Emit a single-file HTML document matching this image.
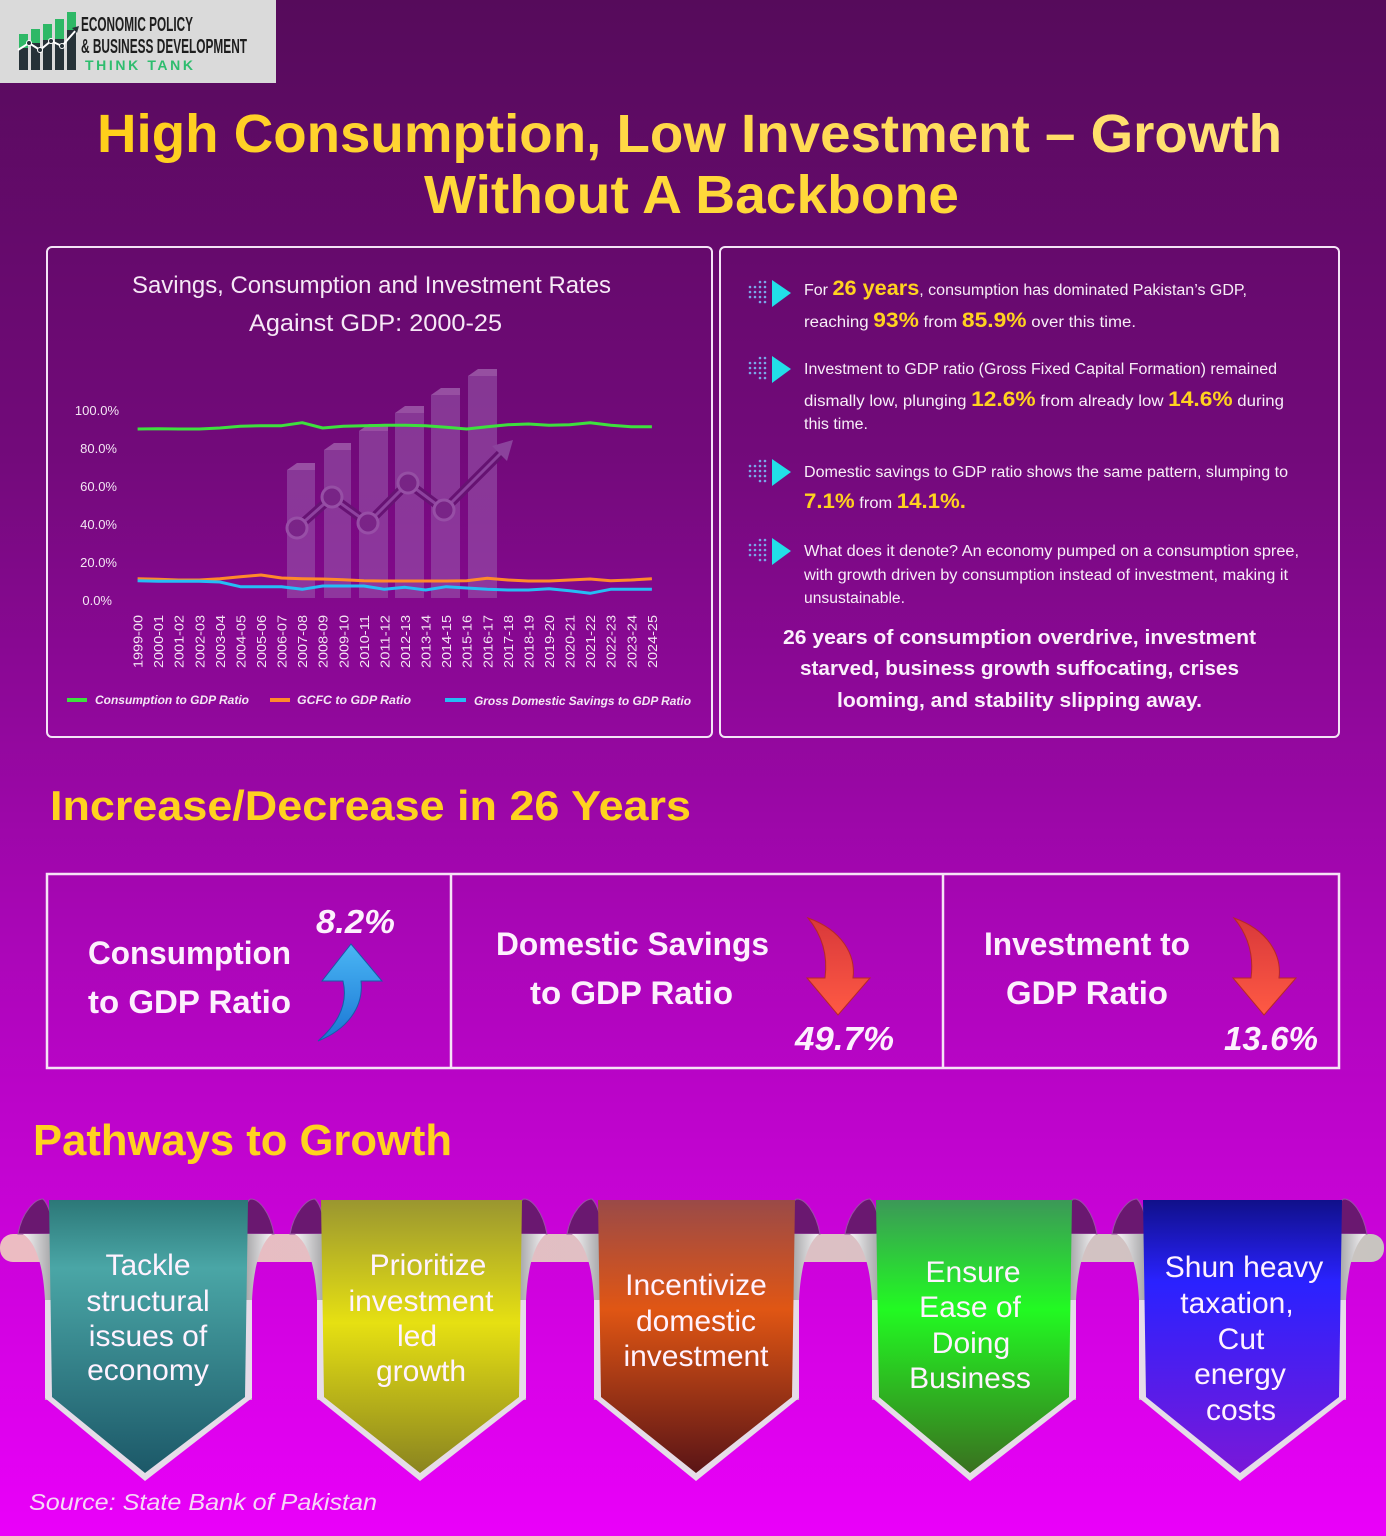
<!DOCTYPE html>
<html><head><meta charset="utf-8"><style>
html,body{margin:0;padding:0;width:1386px;height:1536px;overflow:hidden;}
svg{display:block;}
text{font-family:"Liberation Sans",sans-serif;}
</style></head><body>
<svg width="1386" height="1536" viewBox="0 0 1386 1536" xmlns="http://www.w3.org/2000/svg">
<defs>
<linearGradient id="bg" x1="0" y1="0" x2="0" y2="1">
<stop offset="0" stop-color="#560b5b"/><stop offset="0.3" stop-color="#730a7b"/><stop offset="0.6" stop-color="#a806b5"/><stop offset="1" stop-color="#ea00fa"/>
</linearGradient>
<linearGradient id="ttl" x1="0" y1="0" x2="1" y2="0">
<stop offset="0" stop-color="#ffcf1a"/><stop offset="1" stop-color="#ffe27a"/>
</linearGradient>
<linearGradient id="rod" x1="0" y1="0" x2="1" y2="0">
<stop offset="0" stop-color="#ecbcc2"/><stop offset="0.6" stop-color="#dcc0c4"/><stop offset="1" stop-color="#c8c4c0"/>
</linearGradient>
<linearGradient id="curlL" x1="0" y1="0" x2="1" y2="0">
<stop offset="0" stop-color="#f6f4f6"/><stop offset="1" stop-color="#a8a8aa"/>
</linearGradient>
<linearGradient id="curlR" x1="0" y1="0" x2="1" y2="0">
<stop offset="0" stop-color="#a8a8aa"/><stop offset="1" stop-color="#f6f4f6"/>
</linearGradient>
<linearGradient id="g1" x1="0" y1="0" x2="0" y2="1">
<stop offset="0" stop-color="#2c7878"/><stop offset="0.25" stop-color="#4aa6a6"/><stop offset="1" stop-color="#1c5868"/>
</linearGradient>
<linearGradient id="g2" x1="0" y1="0" x2="0" y2="1">
<stop offset="0" stop-color="#9a9630"/><stop offset="0.45" stop-color="#e6e012"/><stop offset="1" stop-color="#8a8420"/>
</linearGradient>
<linearGradient id="g3" x1="0" y1="0" x2="0" y2="1">
<stop offset="0" stop-color="#9a4a48"/><stop offset="0.4" stop-color="#e05614"/><stop offset="1" stop-color="#5a1416"/>
</linearGradient>
<linearGradient id="g4" x1="0" y1="0" x2="0" y2="1">
<stop offset="0" stop-color="#3c9858"/><stop offset="0.4" stop-color="#22fa22"/><stop offset="1" stop-color="#3a7020"/>
</linearGradient>
<linearGradient id="g5" x1="0" y1="0" x2="0" y2="1">
<stop offset="0" stop-color="#10108a"/><stop offset="0.3" stop-color="#2a22ff"/><stop offset="1" stop-color="#7a18d8"/>
</linearGradient>
<linearGradient id="blueA" x1="0" y1="0" x2="0" y2="1">
<stop offset="0" stop-color="#4ab6f4"/><stop offset="1" stop-color="#1a76d4"/>
</linearGradient>
<linearGradient id="redA" x1="0" y1="0" x2="0" y2="1">
<stop offset="0" stop-color="#d8383a"/><stop offset="1" stop-color="#ff5a44"/>
</linearGradient>
</defs>

<rect x="0" y="0" width="1386" height="1536" fill="url(#bg)"/>

<!-- Logo -->
<rect x="0" y="0" width="276" height="83" fill="#dadada"/>
<g>
<rect x="19" y="34" width="9" height="36" fill="#263238"/>
<rect x="31" y="29" width="9" height="41" fill="#263238"/>
<rect x="43" y="24" width="9" height="46" fill="#263238"/>
<rect x="55" y="19" width="9" height="51" fill="#263238"/>
<rect x="67" y="12" width="9" height="58" fill="#263238"/>
<rect x="19" y="34" width="9" height="14" fill="#2eb866"/>
<rect x="31" y="29" width="9" height="14" fill="#2eb866"/>
<rect x="43" y="24" width="9" height="16" fill="#2eb866"/>
<rect x="55" y="19" width="9" height="20" fill="#2eb866"/>
<rect x="67" y="12" width="9" height="18" fill="#2eb866"/>
<polyline points="18,50 29,43 40,50 51,41 62,46 77,29" fill="none" stroke="#ffffff" stroke-width="2"/>
<circle cx="29" cy="43" r="2.5" fill="#263238" stroke="#fff"/><circle cx="40" cy="50" r="2.5" fill="#263238" stroke="#fff"/><circle cx="51" cy="41" r="2.5" fill="#263238" stroke="#fff"/><circle cx="62" cy="46" r="2.5" fill="#263238" stroke="#fff"/>
<polygon points="79,26 72,28 77,33" fill="#263238"/>
</g>
<text x="81" y="31" font-size="20" font-weight="bold" fill="#1e1e1e" textLength="112" lengthAdjust="spacingAndGlyphs">ECONOMIC POLICY</text>
<text x="81" y="53" font-size="20" font-weight="bold" fill="#1e1e1e" textLength="166" lengthAdjust="spacingAndGlyphs">&amp; BUSINESS DEVELOPMENT</text>
<text x="85" y="70" font-size="14" font-weight="bold" fill="#2ebd6e" textLength="108" lengthAdjust="spacing">THINK TANK</text>

<!-- Title -->
<text x="97" y="152" font-size="54" font-weight="bold" fill="url(#ttl)" textLength="1185" lengthAdjust="spacingAndGlyphs">High Consumption, Low Investment – Growth</text>
<text x="424" y="213" font-size="54" font-weight="bold" fill="#ffd83a" textLength="535" lengthAdjust="spacingAndGlyphs">Without A Backbone</text>

<!-- Panels -->
<rect x="47" y="247" width="665" height="490" rx="5" fill="none" stroke="#f4e4f6" stroke-width="2"/>
<rect x="720" y="247" width="619" height="490" rx="5" fill="none" stroke="#f4e4f6" stroke-width="2"/>

<!-- Chart title -->
<text x="132" y="293" font-size="24" fill="#f6e8f6" textLength="479" lengthAdjust="spacingAndGlyphs">Savings, Consumption and Investment Rates</text>
<text x="249" y="331" font-size="24" fill="#f6e8f6" textLength="253" lengthAdjust="spacingAndGlyphs">Against GDP: 2000-25</text>

<!-- decorative bars -->
<g opacity="0.55">
<g fill="#9a5cae">
<rect x="287" y="470" width="28" height="128"/>
<rect x="324" y="450" width="27" height="148"/>
<rect x="359" y="431" width="29" height="167"/>
<rect x="395" y="413" width="29" height="185"/>
<rect x="431" y="395" width="29" height="203"/>
<rect x="468" y="376" width="29" height="222"/>
</g>
<g fill="#b888c6">
<polygon points="287,470 297,463 315,463 315,470"/>
<polygon points="324,450 334,443 351,443 351,450"/>
<polygon points="359,431 369,424 388,424 388,431"/>
<polygon points="395,413 405,406 424,406 424,413"/>
<polygon points="431,395 441,388 460,388 460,395"/>
<polygon points="468,376 478,369 497,369 497,376"/>
</g>
<polyline points="297,528 332,497 368,523 408,483 444,510 506,448" fill="none" stroke="#5a1a6a" stroke-width="9"/>
<polyline points="297,528 332,497 368,523 408,483 444,510 506,448" fill="none" stroke="#a070b8" stroke-width="3"/>
<g fill="#7a3a8c" stroke="#b088c4" stroke-width="3">
<circle cx="297" cy="528" r="10"/><circle cx="332" cy="497" r="10"/><circle cx="368" cy="523" r="10"/><circle cx="408" cy="483" r="10"/><circle cx="444" cy="510" r="10"/>
</g>
<polygon points="513,440 492,446 507,461" fill="#a070b8"/>
</g>

<!-- y axis labels -->
<g font-size="13" fill="#f4e6f4" text-anchor="end">
<text x="119" y="415">100.0%</text>
<text x="117" y="453">80.0%</text>
<text x="117" y="491">60.0%</text>
<text x="117" y="529">40.0%</text>
<text x="117" y="567">20.0%</text>
<text x="112" y="605">0.0%</text>
</g>

<!-- x labels -->
<g font-size="13" fill="#f4e6f4" text-anchor="end">
<text transform="translate(142.6,615) rotate(-90)" textLength="53" lengthAdjust="spacingAndGlyphs">1999-00</text>
<text transform="translate(163.2,615) rotate(-90)" textLength="53" lengthAdjust="spacingAndGlyphs">2000-01</text>
<text transform="translate(183.7,615) rotate(-90)" textLength="53" lengthAdjust="spacingAndGlyphs">2001-02</text>
<text transform="translate(204.3,615) rotate(-90)" textLength="53" lengthAdjust="spacingAndGlyphs">2002-03</text>
<text transform="translate(224.9,615) rotate(-90)" textLength="53" lengthAdjust="spacingAndGlyphs">2003-04</text>
<text transform="translate(245.4,615) rotate(-90)" textLength="53" lengthAdjust="spacingAndGlyphs">2004-05</text>
<text transform="translate(266.0,615) rotate(-90)" textLength="53" lengthAdjust="spacingAndGlyphs">2005-06</text>
<text transform="translate(286.6,615) rotate(-90)" textLength="53" lengthAdjust="spacingAndGlyphs">2006-07</text>
<text transform="translate(307.2,615) rotate(-90)" textLength="53" lengthAdjust="spacingAndGlyphs">2007-08</text>
<text transform="translate(327.7,615) rotate(-90)" textLength="53" lengthAdjust="spacingAndGlyphs">2008-09</text>
<text transform="translate(348.3,615) rotate(-90)" textLength="53" lengthAdjust="spacingAndGlyphs">2009-10</text>
<text transform="translate(368.9,615) rotate(-90)" textLength="53" lengthAdjust="spacingAndGlyphs">2010-11</text>
<text transform="translate(389.4,615) rotate(-90)" textLength="53" lengthAdjust="spacingAndGlyphs">2011-12</text>
<text transform="translate(410.0,615) rotate(-90)" textLength="53" lengthAdjust="spacingAndGlyphs">2012-13</text>
<text transform="translate(430.6,615) rotate(-90)" textLength="53" lengthAdjust="spacingAndGlyphs">2013-14</text>
<text transform="translate(451.2,615) rotate(-90)" textLength="53" lengthAdjust="spacingAndGlyphs">2014-15</text>
<text transform="translate(471.7,615) rotate(-90)" textLength="53" lengthAdjust="spacingAndGlyphs">2015-16</text>
<text transform="translate(492.3,615) rotate(-90)" textLength="53" lengthAdjust="spacingAndGlyphs">2016-17</text>
<text transform="translate(512.9,615) rotate(-90)" textLength="53" lengthAdjust="spacingAndGlyphs">2017-18</text>
<text transform="translate(533.4,615) rotate(-90)" textLength="53" lengthAdjust="spacingAndGlyphs">2018-19</text>
<text transform="translate(554.0,615) rotate(-90)" textLength="53" lengthAdjust="spacingAndGlyphs">2019-20</text>
<text transform="translate(574.6,615) rotate(-90)" textLength="53" lengthAdjust="spacingAndGlyphs">2020-21</text>
<text transform="translate(595.1,615) rotate(-90)" textLength="53" lengthAdjust="spacingAndGlyphs">2021-22</text>
<text transform="translate(615.7,615) rotate(-90)" textLength="53" lengthAdjust="spacingAndGlyphs">2022-23</text>
<text transform="translate(636.3,615) rotate(-90)" textLength="53" lengthAdjust="spacingAndGlyphs">2023-24</text>
<text transform="translate(656.9,615) rotate(-90)" textLength="53" lengthAdjust="spacingAndGlyphs">2024-25</text>
</g>

<!-- series -->
<polyline fill="none" stroke="#3ee03e" stroke-width="3" stroke-linejoin="round" points="137.6,429 158.2,428.7 178.7,429 199.3,429 219.9,428 240.4,426.3 261,425.7 281.6,425.7 302.2,422.7 322.7,428 343.3,426.3 363.9,425.7 384.4,425.3 405,425.3 425.6,425.7 446.2,427.3 466.7,429 487.3,426.7 507.9,424.7 528.4,424 549,425.3 569.6,424.7 590.1,422.7 610.7,425.3 631.3,426.7 651.9,426.7"/>
<polyline fill="none" stroke="#ff8a2a" stroke-width="3" stroke-linejoin="round" points="137.6,578.7 158.2,579.3 178.7,580 199.3,580 219.9,578.7 240.4,576.7 261,575 281.6,578 302.2,578.7 322.7,579 343.3,579.7 363.9,580.7 384.4,581 405,581 425.6,581 446.2,581 466.7,580.7 487.3,578.3 507.9,580 528.4,581 549,581 569.6,580 590.1,579 610.7,580.7 631.3,580 651.9,578.7"/>
<polyline fill="none" stroke="#25bdf5" stroke-width="3" stroke-linejoin="round" points="137.6,580.7 158.2,581.3 178.7,581.3 199.3,581.3 219.9,582 240.4,586.7 261,586.7 281.6,586.7 302.2,589.3 322.7,586 343.3,586 363.9,586 384.4,589.3 405,587.3 425.6,590 446.2,586.7 466.7,588 487.3,589.3 507.9,590 528.4,590 549,588.7 569.6,590.7 590.1,593.3 610.7,589.3 631.3,589.3 651.9,589.3"/>

<!-- legend -->
<line x1="67" y1="700" x2="87" y2="700" stroke="#3ee03e" stroke-width="4"/>
<line x1="270" y1="700" x2="290" y2="700" stroke="#ff8a2a" stroke-width="4"/>
<line x1="445" y1="700" x2="466" y2="700" stroke="#25bdf5" stroke-width="4"/>
<g font-size="12" font-style="italic" font-weight="bold" fill="#f4e6f4">
<text x="95" y="704" textLength="154" lengthAdjust="spacingAndGlyphs">Consumption to GDP Ratio</text>
<text x="297" y="704" textLength="114" lengthAdjust="spacingAndGlyphs">GCFC to GDP Ratio</text>
<text x="474" y="705" textLength="217" lengthAdjust="spacingAndGlyphs">Gross Domestic Savings to GDP Ratio</text>
</g>

<!-- right panel bullets icons -->
<g id="ic1">
<g fill="#7aa8e8">
<circle cx="750" cy="287" r="1.3"/><circle cx="755" cy="287" r="1.3"/><circle cx="760" cy="287" r="1.3"/><circle cx="765" cy="287" r="1.3"/>
<circle cx="750" cy="292" r="1.3"/><circle cx="755" cy="292" r="1.3"/><circle cx="760" cy="292" r="1.3"/><circle cx="765" cy="292" r="1.3"/>
<circle cx="750" cy="297" r="1.3"/><circle cx="755" cy="297" r="1.3"/><circle cx="760" cy="297" r="1.3"/><circle cx="765" cy="297" r="1.3"/>
<circle cx="760" cy="302" r="1.3"/><circle cx="765" cy="302" r="1.3"/><circle cx="760" cy="282" r="1.3"/><circle cx="765" cy="282" r="1.3"/>
</g>
<polygon points="772,280 791,293 772,307" fill="#22dfe8"/>
</g>
<use href="#ic1" transform="translate(0,76)"/>
<use href="#ic1" transform="translate(0,179)"/>
<use href="#ic1" transform="translate(0,258)"/>

<g font-size="15.5" fill="#f8eef8">
<text x="804" y="295" textLength="443" lengthAdjust="spacingAndGlyphs">For <tspan font-size="21" font-weight="bold" fill="#ffd21f">26 years</tspan>, consumption has dominated Pakistan’s GDP,</text>
<text x="804" y="327" textLength="332" lengthAdjust="spacingAndGlyphs">reaching <tspan font-size="21" font-weight="bold" fill="#ffd21f">93%</tspan> from <tspan font-size="21" font-weight="bold" fill="#ffd21f">85.9%</tspan> over this time.</text>
<text x="804" y="374" textLength="473" lengthAdjust="spacingAndGlyphs">Investment to GDP ratio (Gross Fixed Capital Formation) remained</text>
<text x="804" y="406" textLength="480" lengthAdjust="spacingAndGlyphs">dismally low, plunging <tspan font-size="21" font-weight="bold" fill="#ffd21f">12.6%</tspan> from already low <tspan font-size="21" font-weight="bold" fill="#ffd21f">14.6%</tspan> during</text>
<text x="804" y="429" textLength="64" lengthAdjust="spacingAndGlyphs">this time.</text>
<text x="804" y="477" textLength="484" lengthAdjust="spacingAndGlyphs">Domestic savings to GDP ratio shows the same pattern, slumping to</text>
<text x="804" y="508" textLength="162" lengthAdjust="spacingAndGlyphs"><tspan font-size="21" font-weight="bold" fill="#ffd21f">7.1%</tspan> from <tspan font-size="21" font-weight="bold" fill="#ffd21f">14.1%.</tspan></text>
<text x="804" y="556" textLength="495" lengthAdjust="spacingAndGlyphs">What does it denote? An economy pumped on a consumption spree,</text>
<text x="804" y="580" textLength="484" lengthAdjust="spacingAndGlyphs">with growth driven by consumption instead of investment, making it</text>
<text x="804" y="603" textLength="101" lengthAdjust="spacingAndGlyphs">unsustainable.</text>
</g>
<g font-size="20" font-weight="bold" fill="#fbf0fb">
<text x="783" y="644" textLength="473" lengthAdjust="spacingAndGlyphs">26 years of consumption overdrive, investment</text>
<text x="800" y="675" textLength="439" lengthAdjust="spacingAndGlyphs">starved, business growth suffocating, crises</text>
<text x="837" y="707" textLength="365" lengthAdjust="spacingAndGlyphs">looming, and stability slipping away.</text>
</g>

<!-- Section heading -->
<text x="50" y="820" font-size="42" font-weight="bold" fill="#ffd21f" textLength="641" lengthAdjust="spacingAndGlyphs">Increase/Decrease in 26 Years</text>

<!-- boxes -->
<rect x="47" y="874" width="1292" height="194" fill="none" stroke="#f6e2f6" stroke-width="2.5"/>
<line x1="451" y1="874" x2="451" y2="1068" stroke="#f6e2f6" stroke-width="2.5"/>
<line x1="943" y1="874" x2="943" y2="1068" stroke="#f6e2f6" stroke-width="2.5"/>

<g font-size="32" font-weight="bold" fill="#fdf0fd">
<text x="88" y="964" textLength="203" lengthAdjust="spacingAndGlyphs">Consumption</text>
<text x="88" y="1013" textLength="203" lengthAdjust="spacingAndGlyphs">to GDP Ratio</text>
<text x="496" y="955" textLength="273" lengthAdjust="spacingAndGlyphs">Domestic Savings</text>
<text x="530" y="1004" textLength="203" lengthAdjust="spacingAndGlyphs">to GDP Ratio</text>
<text x="984" y="955" textLength="206" lengthAdjust="spacingAndGlyphs">Investment to</text>
<text x="1006" y="1004" textLength="162" lengthAdjust="spacingAndGlyphs">GDP Ratio</text>
</g>
<g font-size="33" font-weight="bold" font-style="italic" fill="#fdf0fd">
<text x="316" y="933" textLength="79" lengthAdjust="spacingAndGlyphs">8.2%</text>
<text x="795" y="1050" textLength="99" lengthAdjust="spacingAndGlyphs">49.7%</text>
<text x="1224" y="1050" textLength="94" lengthAdjust="spacingAndGlyphs">13.6%</text>
</g>

<!-- arrows -->
<path d="M318,1041 C340,1022 348,1002 343,981 L322,981 L351,944 L382,981 L361,981 C364,1008 346,1030 318,1041 Z" fill="url(#blueA)" stroke="#1a5aa8" stroke-width="1"/>
<path d="M808,918 C842,930 856,955 853,978 L870,978 L838,1015 L807,978 L825,978 C828,955 822,935 808,918 Z" fill="url(#redA)" stroke="#b82828" stroke-width="1"/>
<path d="M1234,918 C1268,930 1282,955 1279,978 L1296,978 L1264,1015 L1233,978 L1251,978 C1254,955 1248,935 1234,918 Z" fill="url(#redA)" stroke="#b82828" stroke-width="1"/>

<!-- Pathways heading -->
<text x="33" y="1155" font-size="44" font-weight="bold" fill="#ffd21f" textLength="419" lengthAdjust="spacingAndGlyphs">Pathways to Growth</text>

<!-- rod -->
<rect x="0" y="1234" width="1384" height="28" rx="13" fill="url(#rod)"/>

<!-- banner 1 -->
<g>
<path d="M18,1234 C22,1212 35,1199 43,1199 C49,1205 53,1220 53,1234 Z" fill="#6a1870" stroke="#9a50a6"/>
<path d="M243,1234 C243,1215 246,1200 251,1199 C259,1199 270,1212 274,1234 Z" fill="#6a1870" stroke="#9a50a6"/>
<path d="M23,1234 L51,1234 L51,1400 L45,1400 L45,1300 C43,1262 35,1242 23,1234 Z" fill="url(#curlL)"/>
<path d="M246,1234 L272,1234 C262,1242 254,1262 252,1300 L252,1400 L246,1400 Z" fill="url(#curlR)"/>
<path d="M45,1300 L45,1398 L145,1481 L252,1398 L252,1300 Z" fill="#e6dce8"/>
<path d="M49,1200 L248,1200 L245,1397 L145,1473 L52,1397 Z" fill="url(#g1)"/>
<g font-size="30" fill="#fff2ff" text-anchor="middle">
<text x="148" y="1275">Tackle</text><text x="148" y="1311">structural</text><text x="148" y="1346">issues of</text><text x="148" y="1380">economy</text>
</g>
</g>

<!-- banner 2 -->
<g>
<path d="M290,1234 C294,1212 307,1199 315,1199 C321,1205 325,1220 325,1234 Z" fill="#6a1870" stroke="#9a50a6"/>
<path d="M516,1234 C516,1215 519,1200 524,1199 C532,1199 543,1212 547,1234 Z" fill="#6a1870" stroke="#9a50a6"/>
<path d="M295,1234 L323,1234 L323,1400 L317,1400 L317,1300 C315,1262 307,1242 295,1234 Z" fill="url(#curlL)"/>
<path d="M520,1234 L546,1234 C536,1242 528,1262 526,1300 L526,1400 L520,1400 Z" fill="url(#curlR)"/>
<path d="M317,1300 L317,1398 L420,1481 L526,1398 L526,1300 Z" fill="#e6dce8"/>
<path d="M321,1200 L522,1200 L519,1397 L420,1473 L324,1397 Z" fill="url(#g2)"/>
<g font-size="30" fill="#fff2ff" text-anchor="middle">
<text x="428" y="1275">Prioritize</text><text x="421" y="1311">investment</text><text x="417" y="1346">led</text><text x="421" y="1381">growth</text>
</g>
</g>

<!-- banner 3 -->
<g>
<path d="M567,1234 C571,1212 584,1199 592,1199 C598,1205 602,1220 602,1234 Z" fill="#6a1870" stroke="#9a50a6"/>
<path d="M789,1234 C789,1215 792,1200 797,1199 C805,1199 816,1212 820,1234 Z" fill="#6a1870" stroke="#9a50a6"/>
<path d="M572,1234 L600,1234 L600,1400 L594,1400 L594,1300 C592,1262 584,1242 572,1234 Z" fill="url(#curlL)"/>
<path d="M793,1234 L819,1234 C809,1242 801,1262 799,1300 L799,1400 L793,1400 Z" fill="url(#curlR)"/>
<path d="M594,1300 L594,1398 L696,1481 L799,1398 L799,1300 Z" fill="#e6dce8"/>
<path d="M598,1200 L795,1200 L792,1397 L696,1473 L601,1397 Z" fill="url(#g3)"/>
<g font-size="30" fill="#fff2ff" text-anchor="middle">
<text x="696" y="1295">Incentivize</text><text x="696" y="1331">domestic</text><text x="696" y="1366">investment</text>
</g>
</g>

<!-- banner 4 -->
<g>
<path d="M845,1234 C849,1212 862,1199 870,1199 C876,1205 880,1220 880,1234 Z" fill="#6a1870" stroke="#9a50a6"/>
<path d="M1066,1234 C1066,1215 1069,1200 1074,1199 C1082,1199 1093,1212 1097,1234 Z" fill="#6a1870" stroke="#9a50a6"/>
<path d="M850,1234 L878,1234 L878,1400 L872,1400 L872,1300 C870,1262 862,1242 850,1234 Z" fill="url(#curlL)"/>
<path d="M1070,1234 L1096,1234 C1086,1242 1078,1262 1076,1300 L1076,1400 L1070,1400 Z" fill="url(#curlR)"/>
<path d="M872,1300 L872,1398 L970,1481 L1076,1398 L1076,1300 Z" fill="#e6dce8"/>
<path d="M876,1200 L1072,1200 L1069,1397 L970,1473 L879,1397 Z" fill="url(#g4)"/>
<g font-size="30" fill="#fff2ff" text-anchor="middle">
<text x="973" y="1282">Ensure</text><text x="970" y="1317">Ease of</text><text x="971" y="1353">Doing</text><text x="970" y="1388">Business</text>
</g>
</g>

<!-- banner 5 -->
<g>
<path d="M1112,1234 C1116,1212 1129,1199 1137,1199 C1143,1205 1147,1220 1147,1234 Z" fill="#6a1870" stroke="#9a50a6"/>
<path d="M1336,1234 C1336,1215 1339,1200 1344,1199 C1352,1199 1363,1212 1367,1234 Z" fill="#6a1870" stroke="#9a50a6"/>
<path d="M1117,1234 L1145,1234 L1145,1400 L1139,1400 L1139,1300 C1137,1262 1129,1242 1117,1234 Z" fill="url(#curlL)"/>
<path d="M1340,1234 L1366,1234 C1356,1242 1348,1262 1346,1300 L1346,1400 L1340,1400 Z" fill="url(#curlR)"/>
<path d="M1139,1300 L1139,1398 L1240,1481 L1346,1398 L1346,1300 Z" fill="#e6dce8"/>
<path d="M1143,1200 L1342,1200 L1339,1397 L1240,1473 L1146,1397 Z" fill="url(#g5)"/>
<g font-size="30" fill="#fff2ff" text-anchor="middle">
<text x="1244" y="1277">Shun heavy</text><text x="1237" y="1313">taxation,</text><text x="1241" y="1349">Cut</text><text x="1240" y="1384">energy</text><text x="1241" y="1420">costs</text>
</g>
</g>

<!-- source -->
<text x="29" y="1510" font-size="23" font-style="italic" fill="#f6d8f6" textLength="348" lengthAdjust="spacingAndGlyphs">Source: State Bank of Pakistan</text>
</svg>
</body></html>
